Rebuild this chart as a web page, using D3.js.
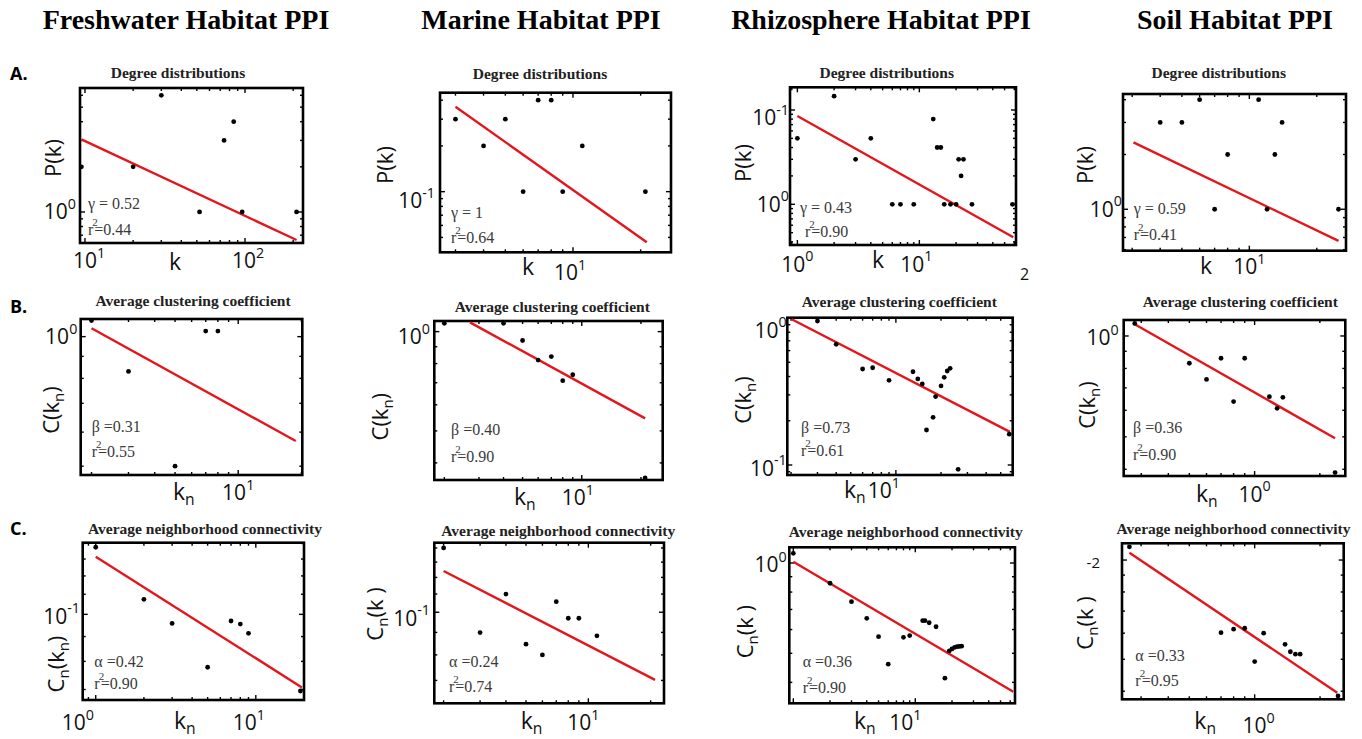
<!DOCTYPE html>
<html><head><meta charset="utf-8">
<script src="https://cdn.jsdelivr.net/npm/d3@7/dist/d3.min.js"></script>
<style>body{margin:0;background:#fff}</style>
</head><body>
<svg id="c" width="1362" height="739"></svg>
<script>
// ---------------- DATA ----------------
const habitats = ["Freshwater Habitat PPI","Marine Habitat PPI","Rhizosphere Habitat PPI","Soil Habitat PPI"];
const rowLetters = ["A.","B.","C."];
const rowTitles = ["Degree distributions","Average clustering coefficient","Average neighborhood connectivity"];

// Row A: degree distribution  k -> P(k)
const fwDegK = [9.5, 20, 30, 52, 74, 85, 96, 210];
const fwDegP = [2, 2, 6, 1, 3, 4, 1, 1];
const fwDegFitK = [9.5, 210], fwDegFitP = [3.05, 0.65];
const maDegK = [3, 4, 5, 6, 7, 8, 9, 11, 21];
const maDegP = [0.3, 0.2, 0.3, 0.1, 0.4, 0.4, 0.1, 0.2, 0.1];
const maDegFitK = [3, 21.3], maDegFitP = [0.362, 0.0465];
const rhDegK = [1, 2, 3, 4, 6, 7, 9, 13, 14, 15, 16, 18, 20, 21, 22, 23, 27, 58];
const rhDegP = [5, 14, 3, 5, 1, 1, 1, 8, 4, 4, 1, 1, 1, 3, 2, 3, 1, 1];
const rhDegFitK = [1, 58.9], rhDegFitP = [8.64, 0.447];
const soDegK = [4, 5, 6, 7, 8, 11, 12, 13, 14, 25];
const soDegP = [3, 3, 4, 1, 2, 4, 1, 2, 3, 1];
const soDegFitK = [3.04, 25], soDegFitP = [2.33, 0.67];

// Row B: clustering coefficient  kn -> C(kn)
const fwClK = [2, 3, 5, 7, 8];
const fwClC = [1.09, 0.83, 0.50, 1.03, 1.03];
const fwClFitK = [2, 18.8], fwClFitC = [1.046, 0.572];
const maClK = [2, 4, 5, 6, 7, 8, 9, 21];
const maClC = [1.06, 1.06, 0.94, 0.82, 0.84, 0.71, 0.74, 0.36];
const maClFitK = [2.7, 21], maClFitC = [1.067, 0.546];
const rhClK = [3, 4, 6, 7, 9, 13, 14, 15, 16, 17.7, 18.4, 20, 21, 22, 23, 26, 57];
const rhClC = [0.954, 0.662, 0.450, 0.459, 0.377, 0.431, 0.385, 0.356, 0.173, 0.211, 0.292, 0.345, 0.395, 0.436, 0.455, 0.0935, 0.162];
const rhClFitK = [2.02, 57.6], rhClFitC = [0.98, 0.168];
const soClK = [2.8, 5, 6, 7, 8, 9, 11.7, 12.7, 13.5, 23.5];
const soClC = [1.09, 0.829, 0.742, 0.858, 0.637, 0.858, 0.659, 0.608, 0.656, 0.391];
const soClFitK = [2.8, 23.5], soClFitC = [1.084, 0.495];

// Row C: neighborhood connectivity  kn -> Cn(kn)
const fwNcK = [1, 2, 3, 5, 7, 8, 9, 19];
const fwNcC = [0.1375, 0.1074, 0.0958, 0.0778, 0.0969, 0.0955, 0.0914, 0.0695];
const fwNcFitK = [1, 19.4], fwNcFitC = [0.1315, 0.0707];
const maNcK = [2, 3, 4, 5, 6, 7, 8, 9, 11];
const maNcC = [0.140, 0.0899, 0.110, 0.0846, 0.080, 0.1057, 0.0969, 0.0969, 0.0884];
const maNcFitK = [2, 21], maNcFitC = [0.1241, 0.0702];
const rhNcK = [1, 2, 3, 4, 5, 6, 8, 9, 11.5, 12, 13, 14.8, 17.5, 19, 20, 21, 22, 23, 24];
const rhNcC = [1.077, 0.856, 0.743, 0.654, 0.568, 0.460, 0.565, 0.573, 0.642, 0.642, 0.632, 0.613, 0.413, 0.509, 0.517, 0.523, 0.526, 0.527, 0.528];
const rhNcFitK = [1, 63.6], rhNcFitC = [1.01, 0.372];
const soNcK = [2.65, 7, 8, 9, 10, 11, 13.8, 14.6, 15.4, 16.2, 24.2];
const soNcC = [0.01097, 0.00602, 0.00617, 0.00621, 0.00492, 0.00600, 0.00555, 0.00527, 0.00518, 0.00518, 0.00387];
const soNcFitK = [2.65, 24], soNcFitC = [0.01052, 0.00396];

// axis domains (log scales) per panel, row-major
const xDomains = [[9.31,230.4],[2.56,27.3],[0.87,62],[2.73,27.0],
                  [1.776,20.2],[1.778,25.8],[1.888,60.1],[2.49,26.2],
                  [0.829,20.0],[1.803,23.2],[0.927,65.7],[2.45,25.7]];
const yDomains = [[0.621,6.71],[0.0399,0.448],[0.37,17.4],[0.592,4.3],
                  [0.477,1.099],[0.355,1.077],[0.0855,1.005],[0.382,1.116],
                  [0.0666,0.1405],[0.0621,0.1439],[0.3406,1.128],[0.00378,0.01124]];

// tick labels [value, base, exponent]
const xTickLabels = [
  [[10,"10","1"],[100,"10","2"]], [[10,"10","1"]], [[1,"10","0"],[10,"10","1"]], [[10,"10","1"]],
  [[10,"10","1"]], [[10,"10","1"]], [[10,"10","1"]], [[10,"10","0"]],
  [[1,"10","0"],[10,"10","1"]], [[10,"10","1"]], [[10,"10","1"]], [[10,"10","0"]]];
const yTickLabels = [
  [[1,"10","0"]], [[0.1,"10","-1"]], [[10,"10","-1"],[1,"10","0"]], [[1,"10","0"]],
  [[1,"10","0"]], [[1,"10","0"]], [[1,"10","0"],[0.1,"10","-1"]], [[1,"10","0"]],
  [[0.1,"10","-1"]], [[0.1,"10","-1"]], [[1,"10","0"]], [[0.01,"","-2"]]];

// fit statistics
const degGamma = ["0.52","1","0.43","0.59"];
const degR2    = ["0.44","0.64","0.90","0.41"];
const clBeta   = ["0.31","0.40","0.73","0.36"];
const clR2     = ["0.55","0.90","0.61","0.90"];
const ncAlpha  = ["0.42","0.24","0.36","0.33"];
const ncR2     = ["0.90","0.74","0.90","0.95"];

// ---------------- LAYOUT ----------------
const headerX = [186, 541, 881, 1235];
const rowLetterY = [80, 313, 535];
const layout = [
 {box:[80,88,303,243], t:[178,78.3], xl:[175,270], yl:[53,158], xb:268, xdx:[4,3], ydy:[0], yg:4, st:[88,209.3,235]},
 {box:[440,92.7,671,252.3], t:[540,79.3], xl:[528,275], yl:[385,165], xb:280, xdx:[-3], ydy:[9], yg:5, st:[451,218.3,243.3]},
 {box:[790,87.3,1016,245], t:[886.7,78.3], xl:[878,268], yl:[743,163], xb:271.7, xdx:[0,-3], ydy:[8,0], yg:1, st:[800,213.3,236.7], st2dx:5, extra:{text:"2",dx:4,dy:35}},
 {box:[1123,94,1346,250.7], t:[1218.7,77.7], xl:[1206,274], yl:[1085,165], xb:274, xdx:[0], ydy:[0], yg:1, st:[1133.7,214,240]},
 {box:[80.7,319,302.3,475], t:[193,306], xl:[179,500], yl:[51.7,410], xb:500, xdx:[0], ydy:[0], yg:3.4, st:[91.7,431.7,456.7]},
 {box:[434.3,321,662.7,480], t:[552.3,312.3], xl:[520,505], yl:[380,416.7], xb:505, xdx:[-4], ydy:[5], yg:4.3, st:[451,435,461.7]},
 {box:[787.3,317.7,1012.7,475], t:[899.3,306.7], xl:[850,498], yl:[743.3,400], xb:498, xdx:[-12], ydy:[12,3], yg:0.6, st:[801,433.3,455.7]},
 {box:[1123.7,320,1345.3,476], t:[1240.3,306.7], xl:[1202,501.7], yl:[1087,405], xb:501.7, xdx:[0], ydy:[2], yg:5, st:[1133,433.3,460]},
 {box:[82.7,542.7,304,700], t:[205,534], xl:[180,729], yl:[56.7,664], xb:730, xdx:[-18,-7], ydy:[2], yg:2.7, st:[94.3,666.7,689.3]},
 {box:[434.3,542.7,664,703.3], t:[558.3,536], xl:[526.7,729], yl:[375,614], xb:730, xdx:[-5], ydy:[6], yg:4.3, st:[449,667.3,691.7]},
 {box:[789.3,547.3,1015,703.3], t:[905.8,536.7], xl:[860,729], yl:[745,631.7], xb:730, xdx:[-10], ydy:[2], yg:2.6, st:[802.7,667.3,692.7]},
 {box:[1122,543.3,1343.7,699.3], t:[1233.5,534.3], xl:[1200.3,729], yl:[1085.3,623], xb:733, xdx:[4], ydy:[0], yg:22, st:[1135.3,660.7,686]}
];

// ---------------- BUILD PANELS ----------------
const rowXs = [[fwDegK,maDegK,rhDegK,soDegK],[fwClK,maClK,rhClK,soClK],[fwNcK,maNcK,rhNcK,soNcK]];
const rowYs = [[fwDegP,maDegP,rhDegP,soDegP],[fwClC,maClC,rhClC,soClC],[fwNcC,maNcC,rhNcC,soNcC]];
const rowFx = [[fwDegFitK,maDegFitK,rhDegFitK,soDegFitK],[fwClFitK,maClFitK,rhClFitK,soClFitK],[fwNcFitK,maNcFitK,rhNcFitK,soNcFitK]];
const rowFy = [[fwDegFitP,maDegFitP,rhDegFitP,soDegFitP],[fwClFitC,maClFitC,rhClFitC,soClFitC],[fwNcFitC,maNcFitC,rhNcFitC,soNcFitC]];
const rowStat = [["γ = ", degGamma, degR2],["β =", clBeta, clR2],["α =", ncAlpha, ncR2]];
const rowXLabel = [[["k",""]], [["k",""],["n","sub"]], [["k",""],["n","sub"]]];
const yLabelParts = (r,c) => r===0 ? [["P(k)",""]] :
                      r===1 ? [["C(k",""],["n","sub"],[")",""]] :
                      c===0 ? [["C",""],["n","sub"],["(k",""],["n","sub"],[")",""]] :
                              [["C",""],["n","sub"],["(k\u00a0)",""]];

const svg = d3.select("#c");
const serif = "'Liberation Serif','Times New Roman',serif";
const sans = "'Open Sans','Noto Sans',sans-serif";
const RED = "#e3161d";

function rich(sel, parts, fs) {
  let shift = 0;
  parts.forEach(([t, type]) => {
    const target = type === "sub" ? 0.22*fs : type === "sup" ? -0.5*fs : 0;
    sel.append("tspan").attr("dy", target - shift)
       .attr("font-size", type ? fs*0.68 : fs).text(t);
    shift = target;
  });
}

svg.selectAll("text.hdr").data(habitats).join("text").attr("class","hdr")
  .attr("x",(d,i)=>headerX[i]).attr("y",29).attr("text-anchor","middle")
  .attr("font-family",serif).attr("font-weight","bold").attr("font-size",28).text(d=>d);

svg.selectAll("text.row").data(rowLetters).join("text").attr("class","row")
  .attr("x",10).attr("y",(d,i)=>rowLetterY[i])
  .attr("font-family",sans).attr("font-weight","bold").attr("font-size",18).text(d=>d);

const isMajor = v => Math.abs(Math.log10(v) - Math.round(Math.log10(v))) < 1e-6;

for (let r = 0; r < 3; r++) for (let c = 0; c < 4; c++) {
  const i = r*4 + c, L = layout[i];
  const [x0,y0,x1,y1] = L.box;
  const x = d3.scaleLog().domain(xDomains[i]).range([x0,x1]);
  const y = d3.scaleLog().domain(yDomains[i]).range([y1,y0]);
  const g = svg.append("g");

  // inward ticks on four sides
  const xt = x.ticks(), yt = y.ticks();
  const tk = d => isMajor(d) ? 5 : 3;
  const tickG = g.append("g").attr("stroke","#000").attr("stroke-width",1.4);
  tickG.selectAll(".xb").data(xt).join("line").attr("x1",x).attr("x2",x).attr("y1",y1).attr("y2",d=>y1-tk(d));
  tickG.selectAll(".xt").data(xt).join("line").attr("x1",x).attr("x2",x).attr("y1",y0).attr("y2",d=>y0+tk(d));
  tickG.selectAll(".yl").data(yt).join("line").attr("y1",y).attr("y2",y).attr("x1",x0).attr("x2",d=>x0+tk(d));
  tickG.selectAll(".yr").data(yt).join("line").attr("y1",y).attr("y2",y).attr("x1",x1).attr("x2",d=>x1-tk(d));

  // frame
  g.append("rect").attr("x",x0).attr("y",y0).attr("width",x1-x0).attr("height",y1-y0)
   .attr("fill","none").attr("stroke","#000").attr("stroke-width",2.6);

  // fit line
  const fx = rowFx[r][c], fy = rowFy[r][c];
  g.append("line").attr("x1",x(fx[0])).attr("y1",y(fy[0])).attr("x2",x(fx[1])).attr("y2",y(fy[1]))
   .attr("stroke",RED).attr("stroke-width",2.4);

  // points
  const xs = rowXs[r][c], ys = rowYs[r][c];
  g.selectAll("circle").data(xs.map((v,j)=>[v,ys[j]])).join("circle")
   .attr("cx",d=>x(d[0])).attr("cy",d=>y(d[1])).attr("r",2.4).attr("fill","#000");

  // title
  g.append("text").attr("x",L.t[0]).attr("y",L.t[1]).attr("text-anchor","middle")
   .attr("font-family",serif).attr("font-weight","bold").attr("font-size",15.5).attr("fill","#222")
   .text(rowTitles[r]);

  // x tick labels
  xTickLabels[i].forEach((tl,j) => {
    const t = g.append("text").attr("x", x(tl[0]) + (L.xdx[j]||0)).attr("y", L.xb)
      .attr("text-anchor","middle").attr("font-family",sans).attr("fill","#111");
    rich(t, [[tl[1],""],[tl[2],"sup"]], 21);
  });
  // y tick labels
  yTickLabels[i].forEach((tl,j) => {
    const t = g.append("text").attr("x", x0 - L.yg).attr("y", y(tl[0]) + (L.ydy[j]||0) + 7.5)
      .attr("text-anchor","end").attr("font-family",sans).attr("fill","#111");
    rich(t, tl[1] ? [[tl[1],""],[tl[2],"sup"]] : [[tl[2],""]], tl[1] ? 21 : 15);
  });

  // axis labels
  const xlab = g.append("text").attr("x", L.xl[0] - 6).attr("y", L.xl[1])
    .attr("font-family",sans).attr("fill","#111");
  rich(xlab, rowXLabel[r], 23);
  const ylab = g.append("text").attr("transform",`translate(${L.yl[0]},${L.yl[1]}) rotate(-90)`)
    .attr("text-anchor","middle").attr("y", 0.35*22).attr("font-family",sans).attr("fill","#111");
  rich(ylab, yLabelParts(r,c), 22);

  // statistics text
  const [sym, vals, r2s] = rowStat[r];
  g.append("text").attr("x",L.st[0]).attr("y",L.st[1]).attr("font-family",serif)
   .attr("font-size",16).attr("fill","#3a3a3a").text(sym + vals[c]);
  const t2 = g.append("text").attr("x",L.st[0] + (L.st2dx||0)).attr("y",L.st[2]).attr("font-family",serif)
   .attr("font-size",16).attr("fill","#3a3a3a");
  t2.append("tspan").text("r");
  t2.append("tspan").attr("font-size",11).attr("dx",-1).attr("dy",-9).text("2");
  t2.append("tspan").attr("dx",-3.5).attr("dy",9).text("=" + r2s[c]);

  if (L.extra) {
    g.append("text").attr("x",x1 + L.extra.dx).attr("y",y1 + L.extra.dy)
     .attr("font-family",sans).attr("font-size",16).attr("fill","#111").text(L.extra.text);
  }
}
</script>
</body></html>
